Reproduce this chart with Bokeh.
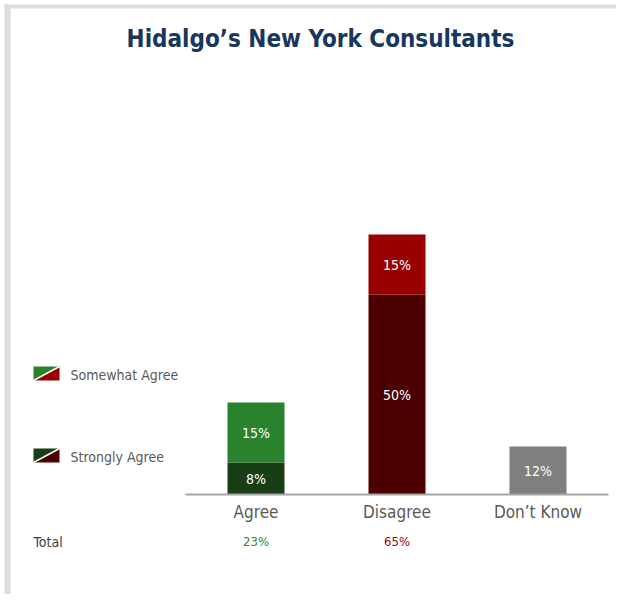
from bokeh.plotting import figure
from bokeh.models import Range1d, ColumnDataSource
from bokeh.core.properties import value
from bokeh.embed import file_html
from bokeh.resources import INLINE

# ---- data ----
categories = ["Agree", "Disagree", "Don\u2019t Know"]
strongly = [8, 50, 12]        # bottom segment (Don't Know shown as single bar)
somewhat = [15, 15, 0]        # top segment
totals = ["23%", "65%", ""]
title_text = "Hidalgo\u2019s New York Consultants"
legend_labels = ["Somewhat Agree", "Strongly Agree"]

# ---- colours ----
strong_colors = ["#173e14", "#4c0000", "#7f7f7f"]
some_colors = ["#2a822e", "#990000", "#7f7f7f"]
total_colors = ["#2e8b2e", "#a00000", "#595959"]

W, H = 616, 594
X0, XS = 255.5, 141.0   # px of category 0, px per category
Y0, YS = 494.0, 4.0     # px of baseline, px per percent

def px2x(px):
    return (px - X0) / XS

def px2y(py):
    return (Y0 - py) / YS

p = figure(width=W, height=H, output_backend="svg", toolbar_location=None,
           x_range=Range1d(px2x(0), px2x(W)), y_range=Range1d(px2y(H), px2y(0)),
           min_border=0)
p.axis.visible = False
p.grid.visible = False
p.outline_line_color = None
p.background_fill_color = "white"
p.border_fill_color = "white"

# light grey frame bands (left and top)
p.quad(left=[px2x(4), px2x(4)], right=[px2x(10), px2x(W)],
       top=[px2y(4), px2y(4)], bottom=[px2y(H), px2y(8)],
       fill_color="#dcdcdc", line_color=None)

xs = list(range(len(categories)))
bw = 57 / XS
src = ColumnDataSource(dict(
    x=xs, cat=categories, strong=strongly,
    top=[a + b for a, b in zip(strongly, somewhat)],
    sc=strong_colors, tc=some_colors,
))
p.vbar(x="x", width=bw, bottom=0, top="strong", fill_color="sc",
       line_color=None, source=src)
p.vbar(x="x", width=bw, bottom="strong", top="top", fill_color="tc",
       line_color=None, source=src)

# baseline (category axis line)
p.segment(x0=[-0.5], y0=[0], x1=[2.5], y1=[0], line_color="#a6a6a6", line_width=2)

font = value("DejaVu Sans Condensed")

# segment labels
lx, ly, lt = [], [], []
for i in xs:
    lx.append(i); ly.append(strongly[i] / 2); lt.append(f"{strongly[i]}%")
    if somewhat[i]:
        lx.append(i); ly.append(strongly[i] + somewhat[i] / 2); lt.append(f"{somewhat[i]}%")
p.text(x=lx, y=ly, text=lt, text_color="white", text_font=font,
       text_font_size="14px", text_align="center", text_baseline="middle")

# category labels
p.text(x=xs, y=[px2y(511)] * 3, text=categories, text_color="#595959",
       text_font=font, text_font_size="17px", text_align="center",
       text_baseline="middle")

# totals row
p.text(x=[px2x(33)], y=[px2y(541)], text=["Total"], text_color="#404040",
       text_font=font, text_font_size="14px", text_align="left",
       text_baseline="middle")
p.text(x=xs, y=[px2y(541)] * 3, text=totals, text_color=total_colors,
       text_font=font, text_font_size="13px", text_align="center",
       text_baseline="middle")

# title
p.text(x=[px2x(320)], y=[px2y(38)], text=[title_text], text_color="#17375e",
       text_font=font, text_font_style="bold", text_font_size="24px",
       text_align="center", text_baseline="middle")

# legend swatches (split diagonally)
sw_top = [366, 448]
sw_x0, sw_x1, sw_h = 33, 59, 14
pairs = [(some_colors[0], some_colors[1]), (strong_colors[0], strong_colors[1])]
for k, (ca, cd) in enumerate(pairs):
    t = sw_top[k]; b = t + sw_h
    p.patch([px2x(sw_x0), px2x(sw_x1), px2x(sw_x0)], [px2y(t), px2y(t), px2y(b)],
            fill_color=ca, line_color=None)
    p.patch([px2x(sw_x1), px2x(sw_x1), px2x(sw_x0)], [px2y(t), px2y(b), px2y(b)],
            fill_color=cd, line_color=None)
    p.line([px2x(sw_x0), px2x(sw_x1)], [px2y(b), px2y(t)], line_color="white",
           line_width=1.5)
p.text(x=[px2x(70)] * 2, y=[px2y(t + 8) for t in sw_top], text=legend_labels,
       text_color="#595959", text_font=font, text_font_size="14px",
       text_align="left", text_baseline="middle")

open("out.html", "w").write(file_html(p, INLINE))
